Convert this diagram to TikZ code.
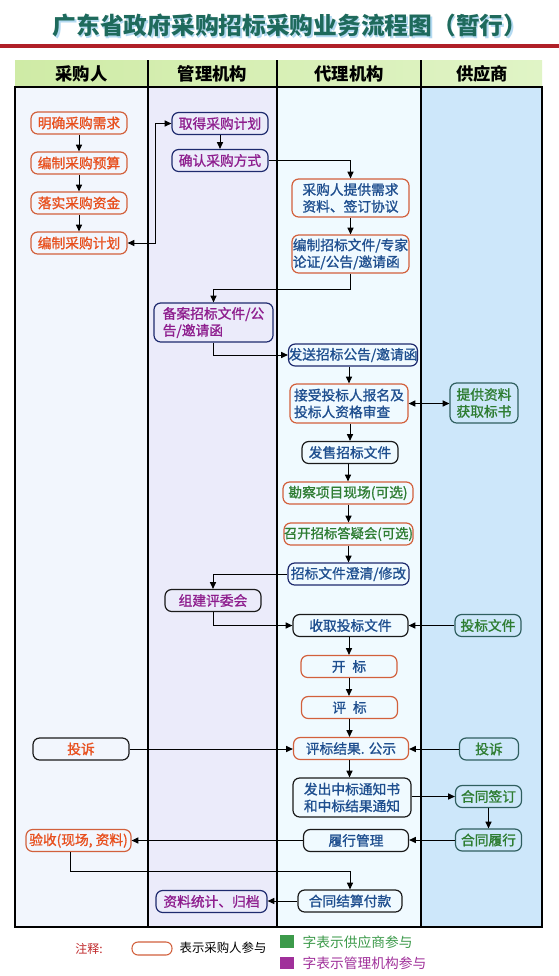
\documentclass[tikz,border=0pt]{standalone}
\usepackage{fontspec}
\setmainfont{Noto Sans CJK SC}
\newfontfamily\bxfont[FakeBold=1.2]{Noto Sans CJK SC}
\usetikzlibrary{arrows.meta}
\definecolor{orB}{HTML}{D2603C}
\definecolor{txO}{HTML}{E8501E}
\definecolor{txB}{HTML}{1F4F8F}
\definecolor{txP}{HTML}{8E1E8E}
\definecolor{txG}{HTML}{2E7D32}
\definecolor{nvB}{HTML}{1E2A6E}
\definecolor{bkB}{HTML}{1A1A1A}
\definecolor{gnB}{HTML}{2F5F5F}
\definecolor{colA}{HTML}{F2F6FD}
\definecolor{colB}{HTML}{EBEBFA}
\definecolor{colC}{HTML}{F0FAFF}
\definecolor{colD}{HTML}{CDE7FA}
\definecolor{hdrL}{HTML}{CFEBA6}
\definecolor{hdrR}{HTML}{E0F4C6}
\definecolor{titleC}{HTML}{1E6A5C}
\definecolor{shadC}{HTML}{B4DAF2}
\definecolor{redL}{HTML}{B02028}
\definecolor{legR}{HTML}{C0282A}
\definecolor{legG}{HTML}{3C9A4A}
\definecolor{legP}{HTML}{A0309A}
\tikzset{
  bx/.style={draw, rounded corners=5pt, line width=0.9pt, inner sep=0pt,
    align=center, font=\bxfont\fontsize{10.3}{12.6}\selectfont, minimum height=16.5pt},
  wd/.style={minimum width=#1*0.75pt},
  ht/.style={minimum height=#1*0.75pt},
  ob/.style={draw=orB}, nv/.style={draw=nvB}, bk/.style={draw=bkB}, gn/.style={draw=gnB},
  txo/.style={text=txO}, txb/.style={text=txB}, txp/.style={text=txP}, txg/.style={text=txG},
  arr/.style={-{Triangle[length=5pt,width=4.5pt]}, line width=0.75pt, black},
  darr/.style={{Triangle[length=5pt,width=4.5pt]}-{Triangle[length=5pt,width=4.5pt]}, line width=0.75pt, black},
  hdrtxt/.style={font=\fontsize{13}{15}\selectfont\bfseries, text=black},
  legtxt/.style={anchor=west, font=\fontsize{10.3}{12}\selectfont}
}
\begin{document}
\begin{tikzpicture}[x=0.75pt,y=-0.75pt]
\useasboundingbox (0,0) rectangle (559,976);
\fill[white] (0,0) rectangle (559,976);
% title
\node[font=\fontsize{17.8}{20}\selectfont\bfseries, text=shadC] (titleshadow) at (291.5,27) {广东省政府采购招标采购业务流程图（暂行）};
\node[font=\fontsize{17.8}{20}\selectfont\bfseries, text=titleC] (title) at (290,25.5) {广东省政府采购招标采购业务流程图（暂行）};
\fill[redL] (0,43.5) rectangle (559,47.5);
% header
\shade[left color=hdrL, right color=hdrR] (15,60) rectangle (542,87);
% columns
\fill[colA] (15,87) rectangle (148,927);
\fill[colB] (148,87) rectangle (277,927);
\fill[colC] (277,87) rectangle (421,927);
\fill[colD] (421,87) rectangle (542,927);
\draw[line width=0.8pt] (15,87) rectangle (542,927);
\draw[line width=0.8pt] (148,60) -- (148,927);
\draw[line width=0.8pt] (277,60) -- (277,927);
\draw[line width=0.8pt] (421,60) -- (421,927);
\node[hdrtxt] (h1) at (81.5,74) {采购人};
\node[hdrtxt] (h2) at (212.5,74) {管理机构};
\node[hdrtxt] (h3) at (349,74) {代理机构};
\node[hdrtxt] (h4) at (482,74) {供应商};
% column 1
\node[bx,ob,txo,wd=96] (n1) at (79,123) {明确采购需求};
\node[bx,ob,txo,wd=96] (n2) at (79,163) {编制采购预算};
\node[bx,ob,txo,wd=96] (n3) at (79,203) {落实采购资金};
\node[bx,ob,txo,wd=96] (n4) at (79,243) {编制采购计划};
% column 2
\node[bx,nv,txp,wd=96] (qd) at (220,123.5) {取得采购计划};
\node[bx,nv,txp,wd=96] (qr) at (220,160.5) {确认采购方式};
% column 3
\node[bx,ob,txb,wd=117,ht=38] (np1) at (350.5,198) {采购人提供需求\\资料、签订协议};
\node[bx,ob,txb,wd=117,ht=38,align=left] (np2) at (350.5,254) {编制招标文件/专家\\论证/公告/邀请函};
\node[bx,nv,txp,wd=119,ht=39,align=left] (ba) at (213.5,322.5) {备案招标文件/公\\告/邀请函};
\node[bx,nv,txb,wd=124] (fs) at (353,355) {发送招标公告/邀请函};
\node[bx,ob,txb,wd=118,ht=39,align=left] (js) at (349,403.5) {接受投标人报名及\\投标人资格审查};
\node[bx,gn,txg,wd=68,ht=40] (tg) at (484,403) {提供资料\\获取标书};
\node[bx,bk,txb,wd=96] (fsh) at (350,452.5) {发售招标文件};
\node[bx,ob,txg,wd=130] (kc) at (348,493) {勘察项目现场(可选)};
\node[bx,ob,txg,wd=129,font=\bxfont\fontsize{10}{12}\selectfont] (zk) at (348.5,534) {召开招标答疑会(可选)};
\node[bx,nv,txb,wd=121] (cq) at (348.5,574) {招标文件澄清/修改};
\node[bx,bk,txp,wd=96] (zj) at (213,600.5) {组建评委会};
\node[bx,bk,txb,wd=115] (sq) at (350.5,625.5) {收取投标文件};
\node[bx,gn,txg,wd=66] (tb) at (488,625.5) {投标文件};
\node[bx,ob,txb,wd=96] (kb) at (349,666.5) {开\hspace{0.5em}标};
\node[bx,ob,txb,wd=96] (pb) at (349.5,707.5) {评\hspace{0.5em}标};
\node[bx,ob,txb,wd=115] (pj) at (351,748.5) {评标结果. 公示};
\node[bx,bk,txo,wd=96] (tsL) at (81,749) {投诉};
\node[bx,gn,txg,wd=59] (tsR) at (489,749) {投诉};
\node[bx,bk,txb,wd=118,ht=39] (fc) at (352,797.5) {发出中标通知书\\和中标结果通知};
\node[bx,gn,txg,wd=66] (qy) at (488.5,796.5) {合同签订};
\node[bx,gn,txg,wd=66] (lx) at (488.5,840) {合同履行};
\node[bx,bk,txb,wd=105] (lg) at (356,840.5) {履行管理};
\node[bx,ob,txo,wd=105] (ys) at (78.5,840.5) {验收(现场, 资料)};
\node[bx,bk,txb,wd=104] (hj) at (350,901) {合同结算付款};
\node[bx,nv,txp,wd=111] (zl) at (211.5,901.5) {资料统计、归档};
% helper coordinates
\coordinate (v1) at (155,0);
\coordinate (r1) at (0,289);
\coordinate (r2) at (70,871);
% connectors
\draw[arr] (n1.south) -- (n2.north);
\draw[arr] (n2.south) -- (n3.north);
\draw[arr] (n3.south) -- (n4.north);
\draw[darr] (n4.east) -- (n4.east -| v1) |- (qd.west);
\draw[arr] (qd.south) -- (qr.north);
\draw[arr] (qr.east) -| (np1.north);
\draw[arr] (np1.south) -- (np1.south |- np2.north);
\draw[arr] (np2.south) -- (np2.south |- r1) -| (ba.north);
\draw[arr] (ba.south) |- (fs.west);
\draw[arr] (js.north |- fs.south) -- (js.north);
\draw[darr] (js.east) -- (js.east -| tg.west);
\draw[arr] (js.south -| fsh.north) -- (fsh.north);
\draw[arr] (fsh.south -| kc.north) -- (kc.north);
\draw[arr] (kc.south -| zk.north) -- (zk.north);
\draw[arr] (zk.south -| cq.north) -- (cq.north);
\draw[arr] (cq.west) -| (zj.north);
\draw[arr] (zj.south) |- (sq.west);
\draw[arr] (tb.west) -- (tb.west -| sq.east);
\draw[arr] (kb.north |- sq.south) -- (kb.north);
\draw[arr] (kb.south) -- (kb.south |- pb.north);
\draw[arr] (pb.south) -- (pb.south |- pj.north);
\draw[arr] (tsL.east) -- (tsL.east -| pj.west);
\draw[arr] (tsR.west) -- (tsR.west -| pj.east);
\draw[arr] (pb.south |- pj.south) -- (pb.south |- fc.north);
\draw[arr] (fc.east |- qy.west) -- (qy.west);
\draw[arr] (qy.south) -- (lx.north);
\draw[arr] (lx.west) -- (lx.west -| lg.east);
\draw[arr] (lg.west) -- (lg.west -| ys.east);
\draw[arr] (ys.south -| r2) -- (r2) -| (hj.north);
\draw[arr] (hj.west) -- (hj.west -| zl.east);
% legend
\node[font=\fontsize{9}{10}\selectfont, text=legR] (zs) at (89,949) {注释:};
\node[draw=orB, rounded corners=4.5pt, line width=0.8pt, minimum width=30pt, minimum height=9.75pt, inner sep=0pt] (ov) at (152,948.5) {};
\node[font=\fontsize{9.3}{10}\selectfont] (l1) at (223,948) {表示采购人参与};
\node[fill=legG, minimum width=10.5pt, minimum height=9.75pt, inner sep=0pt] (sqG) at (287,941.5) {};
\node[legtxt, text=legG] (l2) at (298,942) {字表示供应商参与};
\node[fill=legP, minimum width=10.5pt, minimum height=8.5pt, inner sep=0pt] (sqP) at (287,963) {};
\node[legtxt, text=legP] (l3) at (298,963) {字表示管理机构参与};
\end{tikzpicture}
\end{document}
